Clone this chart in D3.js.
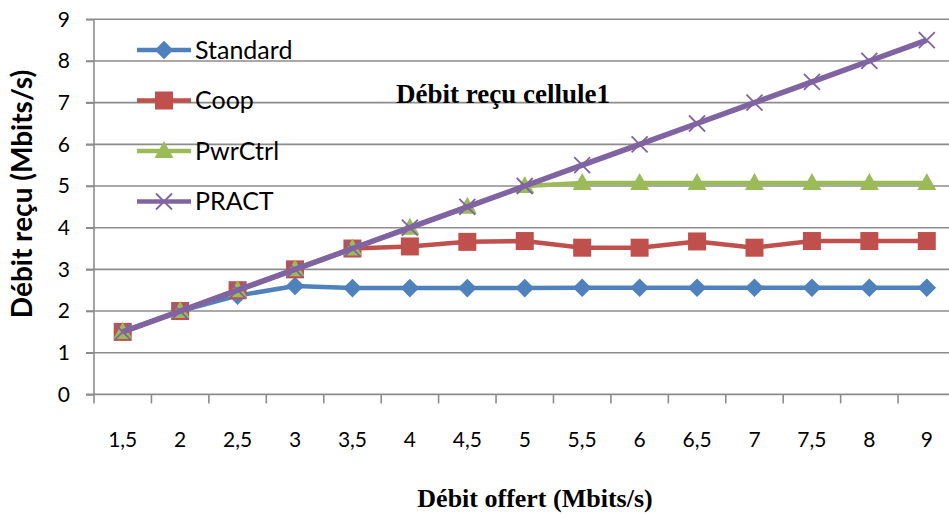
<!DOCTYPE html>
<html>
<head>
<meta charset="utf-8">
<script src="https://cdn.jsdelivr.net/npm/d3@7"></script>
<style>
  html, body { margin: 0; padding: 0; background: #fff; }
  svg { display: block; }
</style>
</head>
<body>
<svg id="chart" width="949" height="516"></svg>
<script>
// Offered rate categories (Mbits/s)
const categories = ["1,5", "2", "2,5", "3", "3,5", "4", "4,5", "5", "5,5", "6", "6,5", "7", "7,5", "8", "9"];
// Received rate per scheme (Mbits/s)
const standard = [1.5, 2.0, 2.37, 2.6, 2.55, 2.55, 2.55, 2.55, 2.56, 2.56, 2.56, 2.56, 2.56, 2.56, 2.56];
const coop     = [1.5, 2.0, 2.5, 3.0, 3.5, 3.55, 3.66, 3.68, 3.52, 3.52, 3.67, 3.52, 3.68, 3.68, 3.68];
const pwrCtrl  = [1.5, 2.0, 2.5, 3.0, 3.5, 4.0, 4.5, 5.0, 5.07, 5.07, 5.07, 5.07, 5.07, 5.07, 5.07];
const pract    = [1.5, 2.0, 2.5, 3.0, 3.5, 4.0, 4.5, 5.0, 5.5, 6.0, 6.5, 7.0, 7.5, 8.0, 8.5];
const yTicks = [0, 1, 2, 3, 4, 5, 6, 7, 8, 9];

const series = [
  { name: "Standard", values: standard, color: "#4F81BD", marker: "diamond" },
  { name: "Coop",     values: coop,     color: "#C0504D", marker: "square" },
  { name: "PwrCtrl",  values: pwrCtrl,  color: "#9BBB59", marker: "triangle" },
  { name: "PRACT",    values: pract,    color: "#8064A2", marker: "cross" }
];

const svg = d3.select("#chart");
const plotL = 94, plotR = 955.5, plotT = 19.3, plotB = 394.4;

const x = d3.scaleBand().domain(categories).range([plotL, plotR]);
const y = d3.scaleLinear().domain([0, 9]).range([plotB, plotT]);
const gridColor = "#8c8c8c";

// Horizontal gridlines
svg.append("g").selectAll("line").data(yTicks.slice(1)).join("line")
  .attr("x1", plotL - 8).attr("x2", plotR)
  .attr("y1", d => y(d)).attr("y2", d => y(d))
  .attr("stroke", gridColor).attr("stroke-width", 1.6);

// Y axis
const yAxis = svg.append("g").attr("transform", `translate(${plotL},0)`)
  .call(d3.axisLeft(y).tickValues(yTicks).tickSize(8).tickPadding(16).tickFormat(d3.format("d")));
yAxis.select(".domain").attr("stroke", gridColor).attr("stroke-width", 1.6).attr("d", `M0,${plotT}V${plotB}`);
yAxis.selectAll(".tick line").attr("stroke", gridColor).attr("stroke-width", 1.6);
yAxis.selectAll(".tick text").attr("font-family", "Lato, sans-serif").attr("font-size", 21).attr("fill", "#000");

// X axis with ticks on band boundaries
const xAxisG = svg.append("g").attr("transform", `translate(0,${plotB})`);
xAxisG.append("line").attr("x1", plotL - 8).attr("x2", plotR).attr("y1", 0).attr("y2", 0)
  .attr("stroke", gridColor).attr("stroke-width", 1.6);
const boundaries = categories.map(c => x(c)).concat([plotR]);
xAxisG.selectAll("line.tk").data(boundaries).join("line").attr("class", "tk")
  .attr("x1", d => d).attr("x2", d => d).attr("y1", 0).attr("y2", 9)
  .attr("stroke", gridColor).attr("stroke-width", 1.6);
xAxisG.selectAll("text").data(categories).join("text")
  .attr("x", d => x(d) + x.bandwidth() / 2).attr("y", 52.5)
  .attr("text-anchor", "middle")
  .attr("font-family", "Lato, sans-serif").attr("font-size", 21).attr("fill", "#000")
  .text(d => d);

const cx = i => x(categories[i]) + x.bandwidth() / 2;

function drawMarker(g, type, color, px, py) {
  if (type === "diamond") {
    g.append("path").attr("d", d3.symbol(d3.symbolDiamond2, 220)())
      .attr("transform", `translate(${px},${py})`).attr("fill", color);
  } else if (type === "square") {
    g.append("rect").attr("x", px - 9).attr("y", py - 9).attr("width", 18).attr("height", 18)
      .attr("fill", color);
  } else if (type === "triangle") {
    g.append("path").attr("d", `M${px},${py - 10}L${px + 9.5},${py + 7}L${px - 9.5},${py + 7}Z`)
      .attr("fill", color);
  } else {
    g.append("path").attr("d", `M${px - 8},${py - 8}L${px + 8},${py + 8}M${px - 8},${py + 8}L${px + 8},${py - 8}`)
      .attr("stroke", color).attr("stroke-width", 1.8).attr("fill", "none");
  }
}

const line = d3.line().x((d, i) => cx(i)).y(d => y(d));

series.forEach(s => {
  const g = svg.append("g");
  g.append("path").datum(s.values).attr("d", line)
    .attr("fill", "none").attr("stroke", s.color)
    .attr("stroke-width", s.marker === "cross" ? 5.5 : 4.5).attr("stroke-linejoin", "round");
  s.values.forEach((v, i) => drawMarker(g, s.marker, s.color, cx(i), y(v)));
});

// Legend
const legend = svg.append("g");
series.forEach((s, i) => {
  const ly = 50 + i * 50.5;
  legend.append("line").attr("x1", 137).attr("x2", 191).attr("y1", ly).attr("y2", ly)
    .attr("stroke", s.color).attr("stroke-width", 4.5);
  drawMarker(legend, s.marker, s.color, 164, ly);
  legend.append("text").attr("x", 195).attr("y", ly + 8.5)
    .attr("font-family", "Lato, sans-serif").attr("font-size", 25).attr("fill", "#000")
    .text(s.name);
});

// Titles
svg.append("text").attr("x", 503).attr("y", 103).attr("text-anchor", "middle")
  .attr("font-family", "'Liberation Serif', 'Times New Roman', serif").attr("font-weight", "bold")
  .attr("font-size", 27).attr("fill", "#000").text("Débit reçu cellule1");

svg.append("text").attr("x", 535).attr("y", 507).attr("text-anchor", "middle")
  .attr("font-family", "'Liberation Serif', 'Times New Roman', serif").attr("font-weight", "bold")
  .attr("font-size", 26).attr("fill", "#000").text("Débit offert (Mbits/s)");

svg.append("text").attr("transform", "translate(32,194) rotate(-90)").attr("text-anchor", "middle")
  .attr("font-family", "Lato, sans-serif").attr("font-weight", "bold")
  .attr("font-size", 28).attr("fill", "#000").text("Débit reçu (Mbits/s)");
</script>
</body>
</html>
